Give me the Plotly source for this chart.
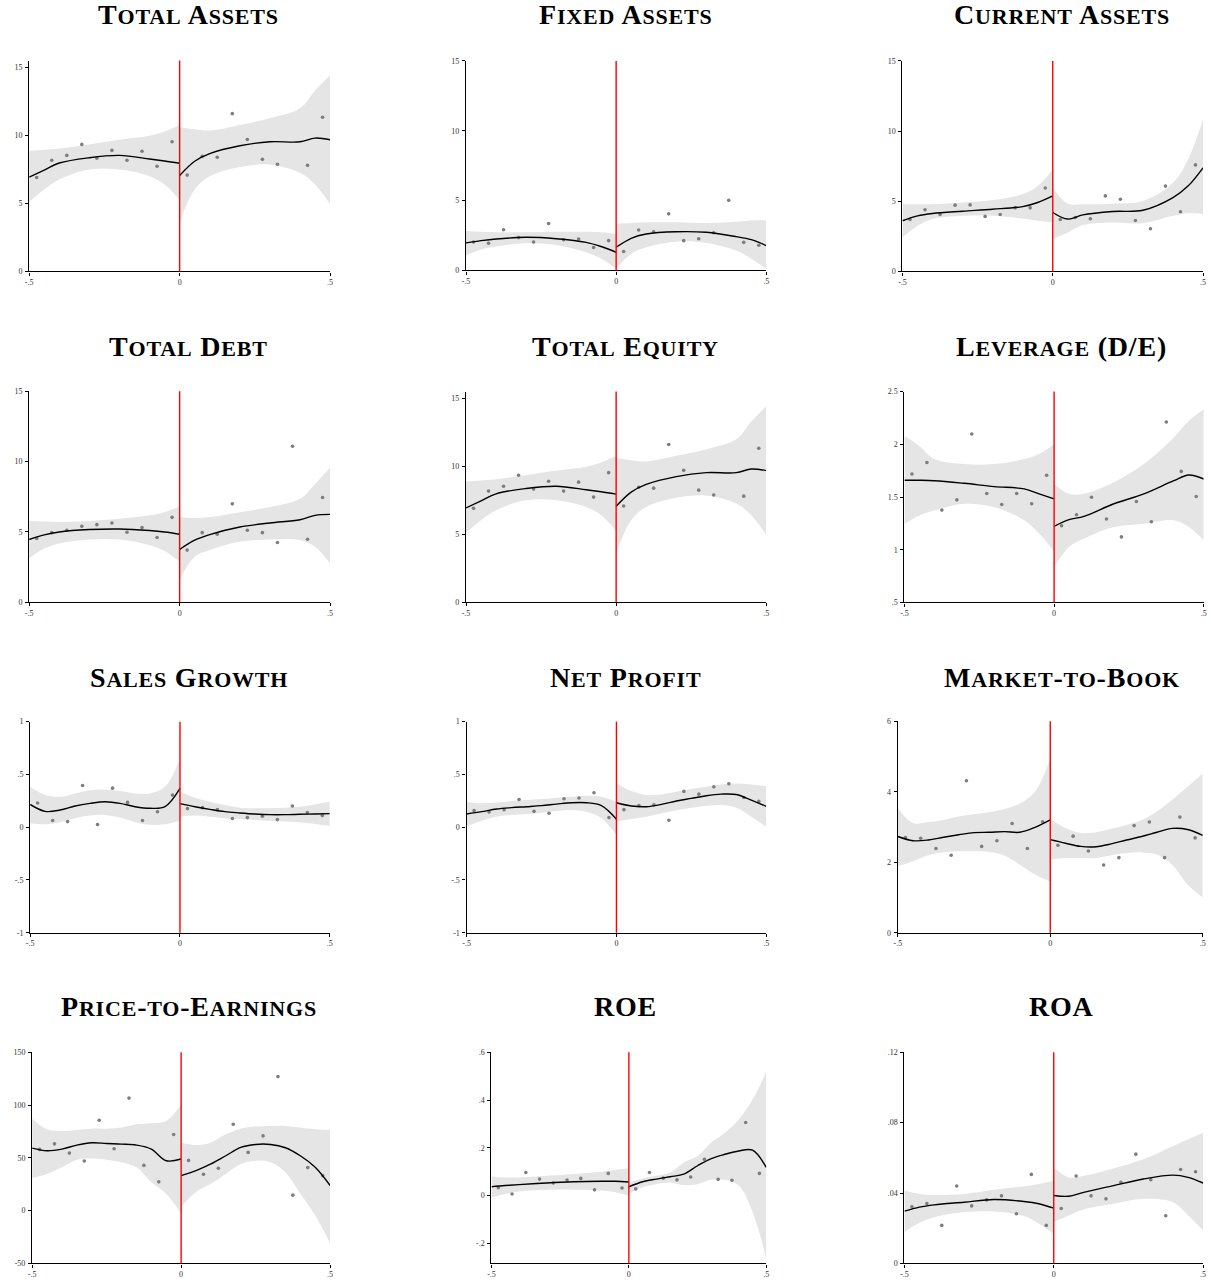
import plotly.graph_objects as go

W, H = 1211, 1285
CUTOFF = 0.0

# bin centres of the binned scatter on each side of the cutoff
BIN_L = [-0.475, -0.425, -0.375, -0.325, -0.275, -0.225, -0.175, -0.125, -0.075, -0.025]
BIN_R = [0.025, 0.075, 0.125, 0.175, 0.225, 0.275, 0.325, 0.375, 0.425, 0.475]

# evaluation grids of the local fits and their confidence bands
G8_L = [-0.5, -0.45, -0.4, -0.3, -0.2, -0.1, -0.05, 0.0]
G8_R = [0.0, 0.05, 0.1, 0.2, 0.3, 0.4, 0.45, 0.5]
G11_L = [-0.5, -0.45, -0.4, -0.35, -0.3, -0.25, -0.2, -0.15, -0.1, -0.05, 0.0]
G11_R = [0.0, 0.05, 0.1, 0.15, 0.2, 0.25, 0.3, 0.35, 0.4, 0.45, 0.5]

X_TICKS = [-0.5, 0.0, 0.5]
X_LABELS = ["-.5", "0", ".5"]

# ---------------- Total Assets ----------------
ta_pts_l = [6.90, 8.17, 8.53, 9.34, 8.32, 8.90, 8.17, 8.83, 7.73, 9.53]
ta_pts_r = [7.08, 8.46, 8.39, 11.60, 9.70, 8.24, 7.88, 15.51, 7.80, 11.33]
ta_fit_l = [6.93, 7.45, 7.97, 8.36, 8.53, 8.27, 8.12, 7.95]
ta_hi_l = [8.87, 8.95, 9.04, 9.34, 9.68, 9.97, 10.28, 10.77]
ta_lo_l = [5.11, 6.03, 6.76, 7.49, 7.49, 7.00, 6.39, 5.25]
ta_fit_r = [7.05, 8.10, 8.66, 9.24, 9.53, 9.53, 9.80, 9.68]
ta_hi_r = [10.60, 10.45, 10.36, 10.77, 11.26, 11.99, 13.30, 14.42]
ta_lo_r = [3.60, 6.03, 7.00, 7.68, 7.85, 7.25, 6.39, 4.94]

# ---------------- Fixed Assets ----------------
fa_pts_l = [2.04, 1.94, 2.91, 2.35, 2.04, 3.36, 2.20, 2.25, 1.64, 2.13]
fa_pts_r = [1.35, 2.89, 2.77, 4.05, 2.13, 2.27, 2.70, 5.02, 2.01, 1.80]
fa_fit_l = [1.97, 2.13, 2.25, 2.37, 2.27, 2.01, 1.71, 1.30]
fa_hi_l = [2.82, 2.76, 2.73, 2.73, 2.77, 2.77, 2.73, 2.61]
fa_lo_l = [1.07, 1.49, 1.71, 1.94, 1.82, 1.30, 0.83, 0.12]
fa_fit_r = [1.66, 2.30, 2.61, 2.77, 2.73, 2.42, 2.20, 1.78]
fa_hi_r = [3.34, 3.39, 3.44, 3.44, 3.39, 3.48, 3.58, 3.58]
fa_lo_r = [0.12, 1.18, 1.66, 2.06, 1.97, 1.42, 0.83, 0.12]

# ---------------- Current Assets ----------------
ca_pts_l = [3.70, 4.39, 4.06, 4.72, 4.74, 3.92, 4.06, 4.53, 4.53, 5.94]
ca_pts_r = [3.70, 3.84, 3.75, 5.38, 5.14, 3.63, 3.04, 6.08, 4.25, 7.59]
ca_fit_l = [3.61, 3.96, 4.13, 4.29, 4.43, 4.62, 4.91, 5.38]
ca_hi_l = [4.79, 4.79, 4.79, 4.91, 5.09, 5.50, 6.08, 7.26]
ca_lo_l = [2.43, 3.25, 3.73, 3.96, 3.96, 3.77, 3.61, 3.49]
ca_fit_r = [4.20, 3.73, 4.03, 4.27, 4.36, 5.26, 6.08, 7.38]
ca_hi_r = [5.97, 4.83, 4.79, 4.83, 5.02, 6.32, 7.97, 10.80]
ca_lo_r = [2.31, 2.78, 3.30, 3.49, 3.44, 3.96, 4.15, 4.08]

# ---------------- Total Debt ----------------
td_pts_l = [4.52, 4.94, 5.11, 5.39, 5.51, 5.63, 4.97, 5.30, 4.59, 6.03]
td_pts_r = [3.70, 4.94, 4.83, 6.99, 5.11, 4.94, 4.24, 11.09, 4.47, 7.44]
td_fit_l = [4.45, 4.78, 4.99, 5.16, 5.20, 5.09, 4.99, 4.83]
td_hi_l = [5.77, 5.74, 5.70, 5.77, 5.93, 6.17, 6.40, 6.80]
td_lo_l = [3.11, 3.81, 4.17, 4.45, 4.45, 4.05, 3.63, 2.87]
td_fit_r = [3.74, 4.40, 4.80, 5.34, 5.63, 5.86, 6.17, 6.24]
td_hi_r = [6.05, 5.98, 6.05, 6.40, 6.76, 7.35, 8.41, 9.58]
td_lo_r = [1.58, 3.23, 3.70, 4.29, 4.45, 4.40, 3.93, 2.75]

# ---------------- Total Equity ----------------
te_pts_l = [6.90, 8.17, 8.53, 9.34, 8.32, 8.90, 8.17, 8.83, 7.73, 9.53]
te_pts_r = [7.08, 8.46, 8.39, 11.60, 9.70, 8.24, 7.88, 15.51, 7.80, 11.33]
te_fit_l = [6.93, 7.45, 7.97, 8.36, 8.53, 8.27, 8.12, 7.95]
te_hi_l = [8.87, 8.95, 9.04, 9.34, 9.68, 9.97, 10.28, 10.77]
te_lo_l = [5.11, 6.03, 6.76, 7.49, 7.49, 7.00, 6.39, 5.25]
te_fit_r = [7.05, 8.10, 8.66, 9.24, 9.53, 9.53, 9.80, 9.68]
te_hi_r = [10.60, 10.45, 10.36, 10.77, 11.26, 11.99, 13.30, 14.42]
te_lo_r = [3.60, 6.03, 7.00, 7.68, 7.85, 7.25, 6.39, 4.94]

# ---------------- Leverage (D/E) ----------------
lev_pts_l = [1.718, 1.828, 1.376, 1.473, 2.098, 1.533, 1.429, 1.533, 1.436, 1.706]
lev_pts_r = [1.228, 1.332, 1.498, 1.291, 1.122, 1.458, 1.266, 2.211, 1.743, 1.505]
lev_fit_l = [1.659, 1.659, 1.655, 1.630, 1.599, 1.577, 1.530, 1.483]
lev_hi_l = [2.079, 1.985, 1.860, 1.812, 1.812, 1.860, 1.907, 2.001]
lev_lo_l = [1.247, 1.326, 1.373, 1.436, 1.404, 1.279, 1.153, 0.980]
lev_fit_r = [1.222, 1.285, 1.316, 1.436, 1.530, 1.655, 1.709, 1.671]
lev_hi_r = [1.624, 1.530, 1.530, 1.640, 1.812, 2.064, 2.221, 2.330]
lev_lo_r = [0.839, 1.027, 1.106, 1.216, 1.247, 1.279, 1.216, 1.090]

# ---------------- Sales Growth ----------------
sg_pts_l = [0.229, 0.063, 0.053, 0.395, 0.025, 0.370, 0.235, 0.063, 0.147, 0.304]
sg_pts_r = [0.176, 0.185, 0.166, 0.082, 0.091, 0.103, 0.072, 0.201, 0.138, 0.110]
sg_fit_l = [0.216, 0.150, 0.163, 0.201, 0.226, 0.241, 0.226, 0.194, 0.179, 0.194, 0.367]
sg_hi_l = [0.382, 0.304, 0.288, 0.320, 0.351, 0.357, 0.342, 0.320, 0.320, 0.382, 0.649]
sg_lo_l = [0.038, 0.028, 0.047, 0.085, 0.110, 0.116, 0.091, 0.047, 0.022, 0.028, 0.060]
sg_fit_r = [0.223, 0.194, 0.169, 0.147, 0.135, 0.125, 0.119, 0.119, 0.122, 0.125, 0.129]
sg_hi_r = [0.335, 0.279, 0.241, 0.210, 0.185, 0.179, 0.179, 0.185, 0.194, 0.216, 0.241]
sg_lo_r = [0.100, 0.110, 0.100, 0.085, 0.078, 0.069, 0.060, 0.053, 0.047, 0.031, 0.013]

# ---------------- Net Profit ----------------
np_pts_l = [0.157, 0.144, 0.166, 0.263, 0.150, 0.132, 0.270, 0.276, 0.326, 0.091]
np_pts_r = [0.166, 0.204, 0.213, 0.066, 0.339, 0.313, 0.382, 0.411, 0.282, 0.245]
np_fit_l = [0.125, 0.147, 0.172, 0.185, 0.194, 0.204, 0.219, 0.232, 0.232, 0.204, 0.075]
np_hi_l = [0.241, 0.226, 0.235, 0.248, 0.257, 0.266, 0.279, 0.288, 0.298, 0.288, 0.241]
np_lo_l = [0.006, 0.060, 0.100, 0.116, 0.125, 0.138, 0.154, 0.163, 0.147, 0.085, -0.072]
np_fit_r = [0.232, 0.201, 0.194, 0.216, 0.248, 0.273, 0.298, 0.313, 0.310, 0.257, 0.197]
np_hi_r = [0.414, 0.342, 0.304, 0.310, 0.335, 0.361, 0.382, 0.404, 0.414, 0.404, 0.389]
np_lo_r = [0.053, 0.078, 0.100, 0.129, 0.160, 0.185, 0.204, 0.210, 0.185, 0.100, 0.006]

# ---------------- Market-to-Book ----------------
mb_pts_l = [2.70, 2.68, 2.39, 2.20, 4.31, 2.45, 2.61, 3.10, 2.39, 3.15]
mb_pts_r = [2.48, 2.74, 2.32, 1.92, 2.13, 3.04, 3.14, 2.13, 3.28, 2.69]
mb_fit_l = [2.73, 2.61, 2.63, 2.71, 2.78, 2.84, 2.85, 2.87, 2.85, 2.99, 3.20]
mb_hi_l = [3.53, 3.11, 3.14, 3.20, 3.30, 3.36, 3.42, 3.51, 3.67, 4.00, 4.94]
mb_lo_l = [1.89, 2.03, 2.20, 2.28, 2.31, 2.31, 2.29, 2.19, 1.93, 1.65, 1.45]
mb_fit_r = [2.64, 2.54, 2.45, 2.44, 2.52, 2.63, 2.73, 2.85, 2.96, 2.93, 2.76]
mb_hi_r = [3.23, 2.97, 2.83, 2.85, 2.95, 3.06, 3.20, 3.44, 3.77, 4.14, 4.52]
mb_lo_r = [2.08, 2.12, 2.12, 2.12, 2.20, 2.26, 2.28, 2.22, 1.93, 1.37, 1.00]

# ---------------- Price-to-Earnings ----------------
pe_pts_l = [58.0, 63.3, 54.5, 47.0, 85.6, 58.6, 106.6, 42.9, 27.3, 72.1]
pe_pts_r = [47.6, 34.5, 40.1, 81.8, 55.2, 70.8, 127.0, 14.7, 40.8, 33.2]
pe_fit_l = [59.2, 56.7, 58.3, 62.1, 64.3, 63.6, 63.0, 62.1, 58.3, 47.3, 48.9]
pe_hi_l = [87.1, 77.1, 75.5, 76.5, 77.7, 77.7, 78.7, 81.8, 82.8, 85.0, 100.6]
pe_lo_l = [31.0, 34.8, 41.1, 48.3, 49.5, 48.3, 45.8, 41.1, 27.0, 16.0, -2.8]
pe_fit_r = [33.2, 37.9, 44.2, 52.0, 59.9, 62.7, 62.7, 59.6, 52.0, 41.1, 23.8]
pe_hi_r = [64.6, 62.1, 64.6, 72.4, 77.7, 79.6, 80.3, 80.3, 78.7, 77.1, 76.5]
pe_lo_r = [3.4, 17.6, 25.4, 34.8, 44.2, 47.3, 45.8, 36.4, 16.0, -4.4, -31.0]

# ---------------- ROE ----------------
roe_pts_l = [0.033, 0.007, 0.097, 0.069, 0.053, 0.065, 0.072, 0.024, 0.093, 0.032]
roe_pts_r = [0.028, 0.097, 0.073, 0.066, 0.078, 0.152, 0.068, 0.064, 0.306, 0.093]
roe_fit_l = [0.037, 0.042, 0.046, 0.053, 0.058, 0.060, 0.060, 0.057]
roe_hi_l = [0.080, 0.076, 0.076, 0.083, 0.090, 0.100, 0.107, 0.114]
roe_lo_l = [-0.007, 0.007, 0.017, 0.025, 0.025, 0.021, 0.014, 0.000]
roe_fit_r = [0.037, 0.058, 0.069, 0.079, 0.090, 0.125, 0.155, 0.173, 0.187, 0.190, 0.118]
roe_hi_r = [0.055, 0.072, 0.083, 0.097, 0.139, 0.166, 0.222, 0.263, 0.319, 0.402, 0.519]
roe_lo_r = [0.007, 0.035, 0.048, 0.055, 0.044, 0.048, 0.066, 0.066, 0.042, -0.069, -0.263]

# ---------------- ROA ----------------
roa_pts_l = [0.0322, 0.0340, 0.0216, 0.0440, 0.0327, 0.0361, 0.0384, 0.0282, 0.0506, 0.0216]
roa_pts_r = [0.0312, 0.0497, 0.0384, 0.0367, 0.0461, 0.0621, 0.0476, 0.0271, 0.0534, 0.0521]
roa_fit_l = [0.0297, 0.0320, 0.0333, 0.0348, 0.0363, 0.0352, 0.0339, 0.0314]
roa_hi_l = [0.0414, 0.0395, 0.0389, 0.0395, 0.0419, 0.0438, 0.0451, 0.0470]
roa_lo_l = [0.0179, 0.0231, 0.0263, 0.0292, 0.0295, 0.0269, 0.0226, 0.0169]
roa_fit_r = [0.0386, 0.0382, 0.0404, 0.0442, 0.0480, 0.0502, 0.0489, 0.0457]
roa_hi_r = [0.0545, 0.0489, 0.0498, 0.0540, 0.0592, 0.0668, 0.0705, 0.0743]
roa_lo_r = [0.0235, 0.0273, 0.0307, 0.0339, 0.0367, 0.0348, 0.0273, 0.0188]

# panel layout in pixels: (left, right, top, bottom) of each plot region
panels = [
    dict(title="Total Assets", box=(25.3, 328.0, 57.0, 269.3), yr=[0, 15.5],
         yt=[0, 5, 10, 15], yl=["0", "5", "10", "15"],
         d=(ta_pts_l, ta_pts_r, G8_L, ta_fit_l, ta_hi_l, ta_lo_l, G8_R, ta_fit_r, ta_hi_r, ta_lo_r)),
    dict(title="Fixed Assets", box=(464.7, 766.7, 57.3, 268.3), yr=[0, 15],
         yt=[0, 5, 10, 15], yl=["0", "5", "10", "15"],
         d=(fa_pts_l, fa_pts_r, G8_L, fa_fit_l, fa_hi_l, fa_lo_l, G8_R, fa_fit_r, fa_hi_r, fa_lo_r)),
    dict(title="Current Assets", box=(903.7, 1206.0, 57.3, 269.3), yr=[0, 15],
         yt=[0, 5, 10, 15], yl=["0", "5", "10", "15"],
         d=(ca_pts_l, ca_pts_r, G8_L, ca_fit_l, ca_hi_l, ca_lo_l, G8_R, ca_fit_r, ca_hi_r, ca_lo_r)),
    dict(title="Total Debt", box=(25.3, 328.0, 390.0, 602.3), yr=[0, 15],
         yt=[0, 5, 10, 15], yl=["0", "5", "10", "15"],
         d=(td_pts_l, td_pts_r, G8_L, td_fit_l, td_hi_l, td_lo_l, G8_R, td_fit_r, td_hi_r, td_lo_r)),
    dict(title="Total Equity", box=(464.7, 766.7, 390.3, 602.3), yr=[0, 15.5],
         yt=[0, 5, 10, 15], yl=["0", "5", "10", "15"],
         d=(te_pts_l, te_pts_r, G8_L, te_fit_l, te_hi_l, te_lo_l, G8_R, te_fit_r, te_hi_r, te_lo_r)),
    dict(title="Leverage (D/E)", box=(905.7, 1206.7, 390.3, 602.7), yr=[0.5, 2.5],
         yt=[0.5, 1, 1.5, 2, 2.5], yl=[".5", "1", "1.5", "2", "2.5"],
         d=(lev_pts_l, lev_pts_r, G8_L, lev_fit_l, lev_hi_l, lev_lo_l, G8_R, lev_fit_r, lev_hi_r, lev_lo_r)),
    dict(title="Sales Growth", box=(26.3, 327.7, 722.7, 935.3), yr=[-1, 1],
         yt=[-1, -0.5, 0, 0.5, 1], yl=["-1", "-.5", "0", ".5", "1"],
         d=(sg_pts_l, sg_pts_r, G11_L, sg_fit_l, sg_hi_l, sg_lo_l, G11_R, sg_fit_r, sg_hi_r, sg_lo_r)),
    dict(title="Net Profit", box=(465.3, 766.7, 722.7, 935.3), yr=[-1, 1],
         yt=[-1, -0.5, 0, 0.5, 1], yl=["-1", "-.5", "0", ".5", "1"],
         d=(np_pts_l, np_pts_r, G11_L, np_fit_l, np_hi_l, np_lo_l, G11_R, np_fit_r, np_hi_r, np_lo_r)),
    dict(title="Market-to-Book", box=(899.0, 1205.7, 722.3, 935.3), yr=[0, 6],
         yt=[0, 2, 4, 6], yl=["0", "2", "4", "6"],
         d=(mb_pts_l, mb_pts_r, G11_L, mb_fit_l, mb_hi_l, mb_lo_l, G11_R, mb_fit_r, mb_hi_r, mb_lo_r)),
    dict(title="Price-to-Earnings", box=(28.3, 328.0, 1055.7, 1268.3), yr=[-50, 150],
         yt=[-50, 0, 50, 100, 150], yl=["-50", "0", "50", "100", "150"],
         d=(pe_pts_l, pe_pts_r, G11_L, pe_fit_l, pe_hi_l, pe_lo_l, G11_R, pe_fit_r, pe_hi_r, pe_lo_r)),
    dict(title="ROE", box=(490.3, 766.7, 1055.7, 1268.3), yr=[-0.284, 0.6],
         yt=[-0.2, 0, 0.2, 0.4, 0.6], yl=["-.2", "0", ".2", ".4", ".6"],
         d=(roe_pts_l, roe_pts_r, G8_L, roe_fit_l, roe_hi_l, roe_lo_l, G11_R, roe_fit_r, roe_hi_r, roe_lo_r)),
    dict(title="ROA", box=(905.7, 1206.0, 1055.7, 1268.3), yr=[0, 0.12],
         yt=[0, 0.04, 0.08, 0.12], yl=["0", ".04", ".08", ".12"],
         d=(roa_pts_l, roa_pts_r, G8_L, roa_fit_l, roa_hi_l, roa_lo_l, G8_R, roa_fit_r, roa_hi_r, roa_lo_r)),
]

TITLE_X = [186.0, 625.0, 1064.0]
TITLE_Y = [14.0, 347.5, 680.8, 1012.8]

BAND = "#e5e5e5"
DOT = "#7d7d7d"
SERIF = "Liberation Serif"
CAP_SIZE = 28
SMALL_SIZE = 22


def small_caps(text):
    """Render lowercase letters as reduced-size capitals, with slight tracking."""
    out, run = [], ""
    for ch in text:
        if ch.islower():
            run += ch.upper()
        else:
            if run:
                out.append(f"<span style='font-size:{SMALL_SIZE}px'>{run}</span>")
                run = ""
            out.append(ch)
    if run:
        out.append(f"<span style='font-size:{SMALL_SIZE}px'>{run}</span>")
    return "<span style='letter-spacing:0.8px'>" + "".join(out) + "</span>"


fig = go.Figure()
layout = dict(
    width=W, height=H, margin=dict(l=0, r=0, t=0, b=0),
    paper_bgcolor="white", plot_bgcolor="white", showlegend=False,
)
shapes, annotations = [], []

for i, p in enumerate(panels):
    suffix = "" if i == 0 else str(i + 1)
    xa, ya = f"x{suffix}", f"y{suffix}"
    pts_l, pts_r, gl, fit_l, hi_l, lo_l, gr, fit_r, hi_r, lo_r = p["d"]
    for gx, fit, hi, lo in ((gl, fit_l, hi_l, lo_l), (gr, fit_r, hi_r, lo_r)):
        fig.add_trace(go.Scatter(x=gx, y=hi, mode="lines", line=dict(width=0, shape="spline"),
                                 hoverinfo="skip", xaxis=xa, yaxis=ya))
        fig.add_trace(go.Scatter(x=gx, y=lo, mode="lines", line=dict(width=0, shape="spline"),
                                 fill="tonexty", fillcolor=BAND, hoverinfo="skip",
                                 xaxis=xa, yaxis=ya))
    for bx, by in ((BIN_L, pts_l), (BIN_R, pts_r)):
        fig.add_trace(go.Scatter(x=bx, y=by, mode="markers", cliponaxis=False,
                                 marker=dict(size=3.6, color=DOT), xaxis=xa, yaxis=ya))
    for gx, fit in ((gl, fit_l), (gr, fit_r)):
        fig.add_trace(go.Scatter(x=gx, y=fit, mode="lines",
                                 line=dict(color="black", width=1.4, shape="spline"),
                                 xaxis=xa, yaxis=ya))

    x0, x1, y0, y1 = p["box"]
    axis_common = dict(
        showline=True, linecolor="black", linewidth=1.3, ticks="outside",
        ticklen=3, tickwidth=1, tickcolor="black", showgrid=False, zeroline=False,
        tickfont=dict(family=SERIF, size=8, color="#333333"), fixedrange=True,
    )
    layout[f"xaxis{suffix}"] = dict(
        domain=[x0 / W, x1 / W], range=[-0.5, 0.5], anchor=ya,
        tickmode="array", tickvals=X_TICKS, ticktext=X_LABELS, ticklabelstandoff=0,
        **axis_common,
    )
    layout[f"yaxis{suffix}"] = dict(
        domain=[1 - y1 / H, 1 - y0 / H], range=p["yr"], anchor=xa,
        tickmode="array", tickvals=p["yt"], ticktext=p["yl"], ticklabelstandoff=1,
        **axis_common,
    )
    shapes.append(dict(type="line", xref=xa, yref=f"{ya} domain", x0=CUTOFF, x1=CUTOFF,
                       y0=0, y1=1, line=dict(color="#ff0000", width=1.4), layer="above"))
    annotations.append(dict(
        text=small_caps(p["title"]), showarrow=False, xref="paper", yref="paper",
        x=TITLE_X[i % 3] / W, y=1 - (TITLE_Y[i // 3] - 3) / H,
        xanchor="center", yanchor="middle",
        font=dict(family=SERIF, size=CAP_SIZE, color="black", weight="bold"),
    ))

layout["shapes"] = shapes
layout["annotations"] = annotations
fig.update_layout(**layout)
fig.write_html("out.html")
